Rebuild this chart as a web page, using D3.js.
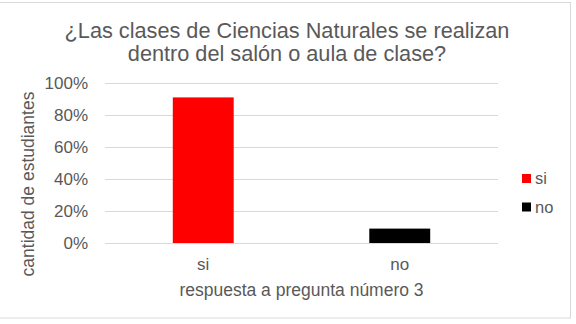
<!DOCTYPE html>
<html>
<head>
<meta charset="utf-8">
<script src="https://cdn.jsdelivr.net/npm/d3@7"></script>
<style>
  body { margin: 0; background: #fff; }
  text { font-family: 'Liberation Sans', Arial, sans-serif; fill: #595959; }
</style>
</head>
<body>
<div id="chart"></div>
<script>
const categories = ['si', 'no']
const values = [0.91, 0.09]
const colors = ['#ff0000', '#000000']
const yTicks = [0, 0.2, 0.4, 0.6, 0.8, 1]
const titleLines = ['¿Las clases de Ciencias Naturales se realizan', 'dentro del salón o aula de clase?']
const xTitle = 'respuesta a pregunta número 3'
const yTitle = 'cantidad de estudiantes'

let margin = {top: 83, right: 78, bottom: 81, left: 105},
    width = 576 - margin.left - margin.right,
    height = 324 - margin.top - margin.bottom

let root = d3.select('#chart').append('svg')
  .attr('width', 576)
  .attr('height', 324)

root.append('rect')
  .attr('x', -1).attr('y', 2.5)
  .attr('width', 571.5).attr('height', 315.5)
  .attr('fill', '#fff')
  .attr('stroke', '#d9d9d9')

root.selectAll('.title')
  .data(titleLines)
  .enter().append('text')
  .attr('class', 'title')
  .attr('x', 287)
  .attr('y', (d, i) => 37.5 + i * 23.5)
  .attr('text-anchor', 'middle')
  .style('font-size', '21.7px')
  .text(d => d)

let svg = root.append('g')
  .attr('transform', 'translate(' + margin.left + ',' + margin.top + ')')

let x = d3.scaleBand().domain(categories).range([0, width]).paddingInner(0.69).paddingOuter(0.345)
let y = d3.scaleLinear().domain([0, 1]).range([height, 0])

// gridlines
svg.selectAll('.grid')
  .data(yTicks)
  .enter().append('line')
  .attr('x1', 0).attr('x2', width)
  .attr('y1', d => y(d) + 0.5).attr('y2', d => y(d) + 0.5)
  .attr('stroke', '#d9d9d9')

let yAxis = d3.axisLeft(y).tickValues(yTicks).tickFormat(d3.format('.0%')).tickSize(0).tickPadding(17)
svg.append('g')
  .call(yAxis)
  .call(g => g.select('.domain').remove())
  .selectAll('text')
  .style('font-size', '17px')
  .attr('dy', '0.35em')

svg.selectAll('.bar')
  .data(values)
  .enter().append('rect')
  .attr('x', (d, i) => x(categories[i]))
  .attr('y', d => y(d))
  .attr('width', x.bandwidth())
  .attr('height', d => height - y(d))
  .attr('fill', (d, i) => colors[i])

let xAxis = d3.axisBottom(x).tickSize(0).tickPadding(15)
svg.append('g')
  .attr('transform', 'translate(0,' + height + ')')
  .call(xAxis)
  .call(g => g.select('.domain').remove())
  .selectAll('text')
  .style('font-size', '17px')

svg.append('text')
  .attr('x', width / 2)
  .attr('y', height + 52.5)
  .attr('text-anchor', 'middle')
  .style('font-size', '17.5px')
  .text(xTitle)

svg.append('text')
  .attr('transform', 'rotate(-90)')
  .attr('x', -(184 - margin.top))
  .attr('y', 34 - margin.left)
  .attr('text-anchor', 'middle')
  .style('font-size', '17.5px')
  .text(yTitle)

// legend
let legend = root.selectAll('.legend')
  .data(categories)
  .enter().append('g')
  .attr('transform', (d, i) => 'translate(522,' + (174 + i * 28.5) + ')')

legend.append('rect')
  .attr('width', 9).attr('height', 9)
  .attr('fill', (d, i) => colors[i])

legend.append('text')
  .attr('x', 13).attr('y', 10)
  .style('font-size', '16.5px')
  .text(d => d)
</script>
</body>
</html>
